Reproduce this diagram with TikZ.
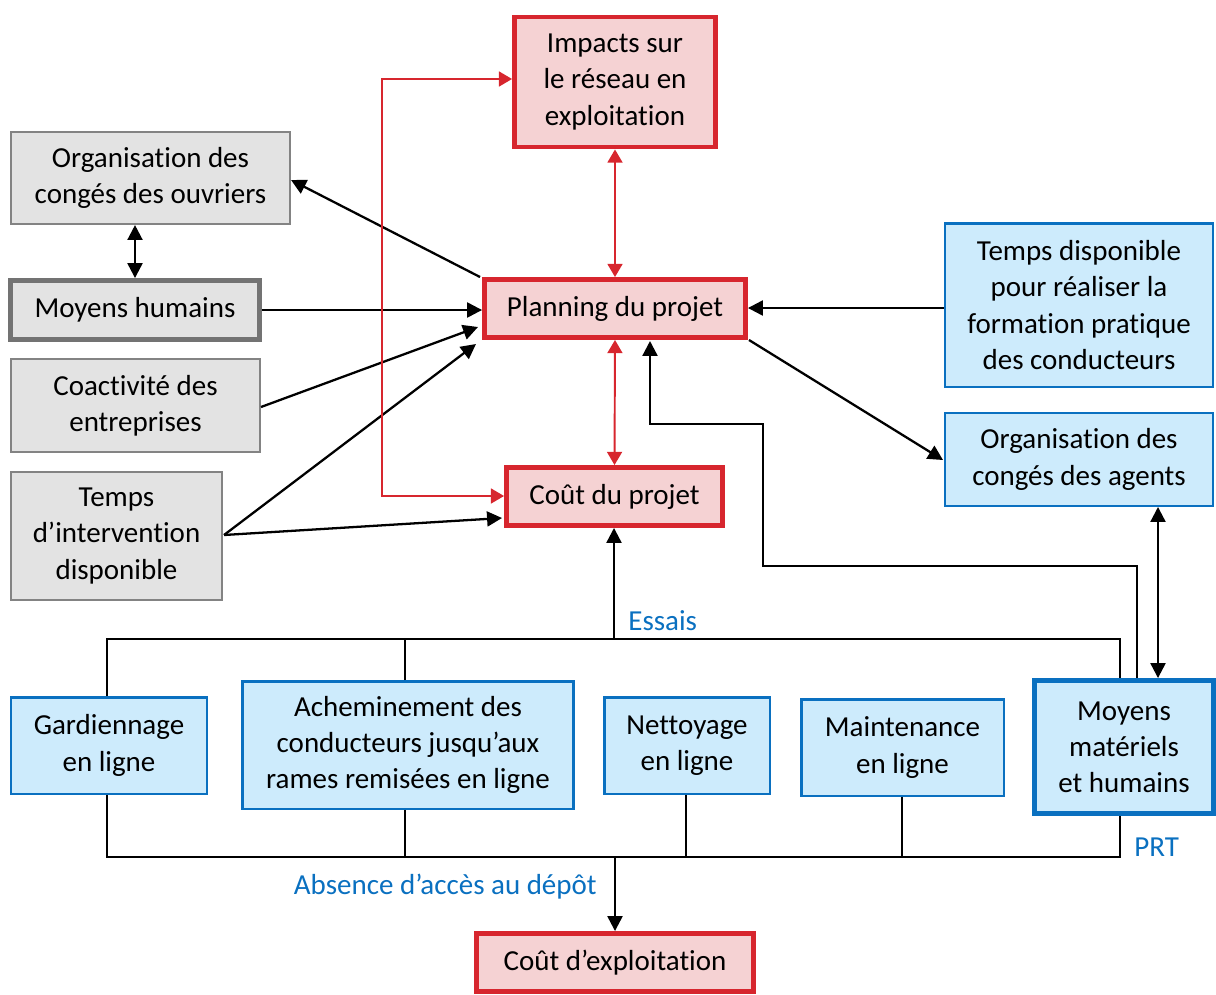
\documentclass[tikz,border=0pt]{standalone}
\usepackage{fontspec}
\setmainfont{Carlito}[Ligatures=CommonOff]
\usetikzlibrary{arrows.meta}
\definecolor{rbord}{HTML}{D7262E}
\definecolor{rfill}{HTML}{F5D2D3}
\definecolor{gbord}{HTML}{838383}
\definecolor{gbordk}{HTML}{737373}
\definecolor{gfill}{HTML}{E3E3E3}
\definecolor{bbord}{HTML}{0A70C0}
\definecolor{bfill}{HTML}{CDEBFC}
\definecolor{btext}{HTML}{0A70C0}
\tikzset{
  base/.style={align=center, inner sep=0pt, font=\fontsize{16.5}{20.6}\selectfont, text=black},
  redbox/.style={base, draw=rbord, fill=rfill, line width=2.8pt},
  graybox/.style={base, draw=gbord, fill=gfill, line width=1.2pt},
  graythick/.style={base, draw=gbordk, fill=gfill, line width=2.8pt},
  bluebox/.style={base, draw=bbord, fill=bfill, line width=1.4pt},
  bluethick/.style={base, draw=bbord, fill=bfill, line width=2.8pt},
  conn/.style={draw=black, line width=1.3pt},
  arr/.style={conn, -{Triangle[length=8.5pt,width=8.5pt]}},
  darr/.style={conn, {Triangle[length=8.5pt,width=8.5pt]}-{Triangle[length=8.5pt,width=8.5pt]}},
  rconn/.style={draw=rbord, line width=1.1pt},
  rdarr/.style={rconn, {Triangle[length=7.5pt,width=8.5pt]}-{Triangle[length=7.5pt,width=8.5pt]}},
  lbl/.style={text=btext, font=\fontsize{16.5}{20.6}\selectfont, inner sep=0pt}
}
\begin{document}
\begin{tikzpicture}[x=0.02cm, y=-0.02cm]
\useasboundingbox (0,0) rectangle (1216,994);
% red nodes
\node[redbox, minimum width=4.02cm, minimum height=2.6cm] (imp) at (615,82) {Impacts sur\\le réseau en\\exploitation};
\node[redbox, minimum width=5.22cm, minimum height=1.16cm] (plan) at (615,308.5) {Planning du projet};
\node[redbox, minimum width=4.32cm, minimum height=1.16cm] (cp) at (614.5,496.5) {Coût du projet};
\node[redbox, minimum width=5.54cm, minimum height=1.16cm] (ce) at (615,962.5) {Coût d’exploitation};
% gray nodes
\node[graybox, minimum width=5.58cm, minimum height=1.84cm] (oo) at (150.5,178) {Organisation des\\congés des ouvriers};
\node[graythick, minimum width=4.98cm, minimum height=1.18cm] (mh) at (135,310) {Moyens humains};
\node[graybox, minimum width=4.98cm, minimum height=1.86cm] (co) at (135.5,405.5) {Coactivité des\\entreprises};
\node[graybox, minimum width=4.22cm, minimum height=2.56cm] (ti) at (116.5,536) {Temps\\d’intervention\\disponible};
% blue nodes
\node[bluebox, minimum width=5.37cm, minimum height=3.27cm] (td) at (1079,305) {Temps disponible\\pour réaliser la\\formation pratique\\des conducteurs};
\node[bluebox, minimum width=5.37cm, minimum height=1.85cm] (oa) at (1079,459.5) {Organisation des\\congés des agents};
\node[bluebox, minimum width=3.91cm, minimum height=1.93cm] (ga) at (109,745.5) {Gardiennage\\en ligne};
\node[bluebox, minimum width=6.63cm, minimum height=2.55cm] (ac) at (408,745) {Acheminement des\\conducteurs jusqu’aux\\rames remisées en ligne};
\node[bluebox, minimum width=3.31cm, minimum height=1.93cm] (ne) at (687,745.5) {Nettoyage\\en ligne};
\node[bluebox, minimum width=4.05cm, minimum height=1.93cm] (ma) at (902.5,747.5) {Maintenance\\en ligne};
\node[bluethick, minimum width=3.58cm, minimum height=2.66cm] (mm) at (1124,747) {Moyens\\matériels\\et humains};
% coordinates
\coordinate (pnw) at (480,277);
\coordinate (coA) at (261,407);
\coordinate (plA) at (478,327);
\coordinate (tiA) at (224,535);
\coordinate (plB) at (476,344);
\coordinate (cpA) at (502,518);
\coordinate (plC) at (749,340);
\coordinate (oaA) at (943,460);
\coordinate (plD) at (650,341);
\coordinate (j1) at (650,424);
\coordinate (j2) at (763,424);
\coordinate (j3) at (763,566);
\coordinate (j4) at (1137,566);
\coordinate (tl) at (107,639);
\coordinate (tr) at (1120,639);
\coordinate (bl) at (107,857);
\coordinate (br) at (1120,857);
\coordinate (tm) at (614,639);
\coordinate (bm) at (615,857);
% black connectors
\draw[arr] (pnw) -- (oo.east |- 0,180);
\draw[darr] (oo.south -| 135,0) -- (mh.north -| 135,0);
\draw[arr] (mh.east) -- (plan.west |- mh.east);
\draw[arr] (coA) -- (plA);
\draw[arr] (tiA) -- (plB);
\draw[arr] (tiA) -- (cpA);
\draw[arr] (td.west |- 0,308) -- (plan.east |- 0,308);
\draw[arr] (plC) -- (oaA);
\draw[darr] (oa.south -| 1158,0) -- (mm.north -| 1158,0);
\draw[arr] (mm.north -| j4) -- (j4) -- (j3) -- (j2) -- (j1) -- (plD);
% red connectors
\draw[rdarr] (imp.south) -- (plan.north);
\draw[rdarr] (plan.south) -- (cp.north);
\draw[rdarr] (imp.west |- 0,79) -- (382,79) -- (382,496) -- (cp.west |- 0,496);
% top bus
\draw[conn] (ga.north -| tl) -- (tl) -- (tr) -- (mm.north -| tr);
\draw[conn] (ac.north -| 405,0) -- (405,639);
\draw[arr] (tm) -- (cp.south -| tm);
% bottom bus
\draw[conn] (ga.south -| bl) -- (bl) -- (br) -- (mm.south -| br);
\draw[conn] (ac.south -| 405,0) -- (405,857);
\draw[conn] (ne.south -| 686,0) -- (686,857);
\draw[conn] (ma.south -| 902,0) -- (902,857);
\draw[arr] (bm) -- (ce.north -| bm);
% labels
\node[lbl, anchor=west] (essais) at (628,621) {Essais};
\node[lbl, anchor=west] (prt) at (1134,847) {PRT};
\node[lbl, anchor=east] (abs) at (597,887) {Absence d’accès au dépôt};
\end{tikzpicture}
\end{document}
